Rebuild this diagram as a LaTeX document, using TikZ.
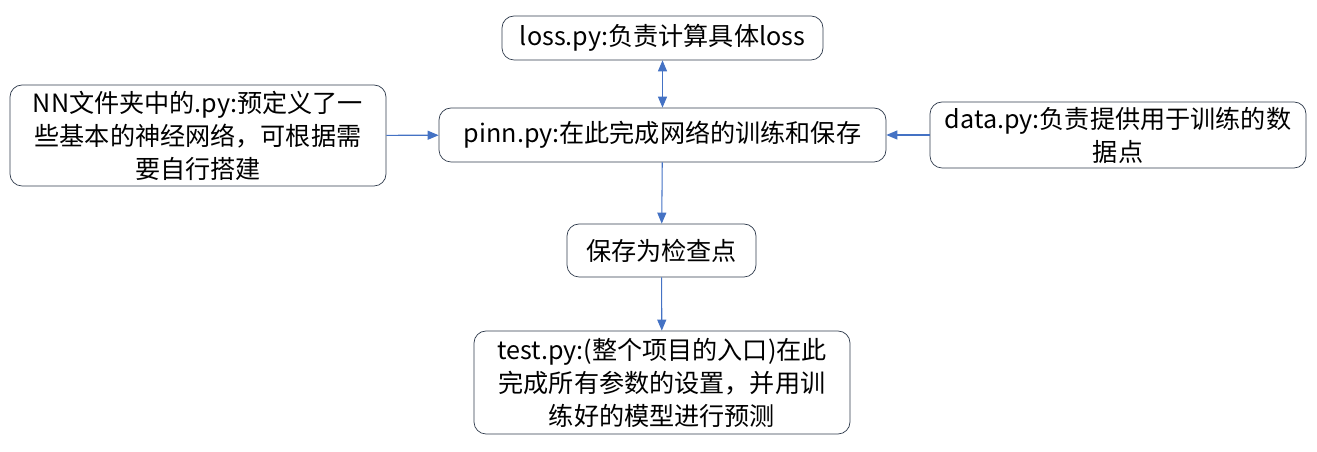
\documentclass[tikz,border=0pt]{standalone}
\usepackage{fontspec}
\newfontfamily\cjk{Noto Sans CJK SC}
\usepackage{tikz}
\usetikzlibrary{positioning}
\usetikzlibrary{arrows.meta}
\definecolor{boxline}{HTML}{2F3B4C}
\definecolor{arrowblue}{HTML}{4472C4}

\begin{document}
\begin{tikzpicture}[every node/.style={draw=boxline, rounded corners=0.24cm, align=center, inner sep=2pt, font=\cjk\fontsize{14.3}{18.8}\selectfont}]
            \useasboundingbox (0,0) rectangle (26.34,9.04);
            % Nodes
            \node[minimum width=6.42cm, minimum height=0.88cm] (loss) at (13.25,8.28) {loss.py:负责计算具体loss};
            \node[minimum width=8.94cm, minimum height=1.08cm] (pinn) at (13.25,6.34) {pinn.py:在此完成网络的训练和保存};
            \node[minimum width=7.52cm, minimum height=2.02cm] (nn) at (3.96,6.33) {NN文件夹中的.py:预定义了一\\些基本的神经网络，可根据需\\要自行搭建};
            \node[minimum width=7.52cm, minimum height=1.32cm] (data) at (22.36,6.34) {data.py:负责提供用于训练的数\\据点};
            \node[minimum width=3.78cm, minimum height=1.06cm] (ckpt) at (13.23,4.03) {保存为检查点};
            \node[minimum width=7.52cm, minimum height=2.06cm] (test) at (13.24,1.39) {test.py:(整个项目的入口)在此\\完成所有参数的设置，并用训\\练好的模型进行预测};

            % Edges
            \draw[{Triangle[length=2.2mm,width=1.8mm]}-{Triangle[length=2.2mm,width=1.8mm]}, arrowblue, semithick] (pinn) -- (loss);
            \draw[-{Triangle[length=2.2mm,width=1.8mm]}, arrowblue, semithick] (nn) -- (pinn);
            \draw[-{Triangle[length=2.2mm,width=1.8mm]}, arrowblue, semithick] (data) -- (pinn);
            \draw[-{Triangle[length=2.2mm,width=1.8mm]}, arrowblue, semithick] (pinn) -- (ckpt);
            \draw[-{Triangle[length=2.2mm,width=1.8mm]}, arrowblue, semithick] (ckpt) -- (test);
          \end{tikzpicture}
\end{document}
